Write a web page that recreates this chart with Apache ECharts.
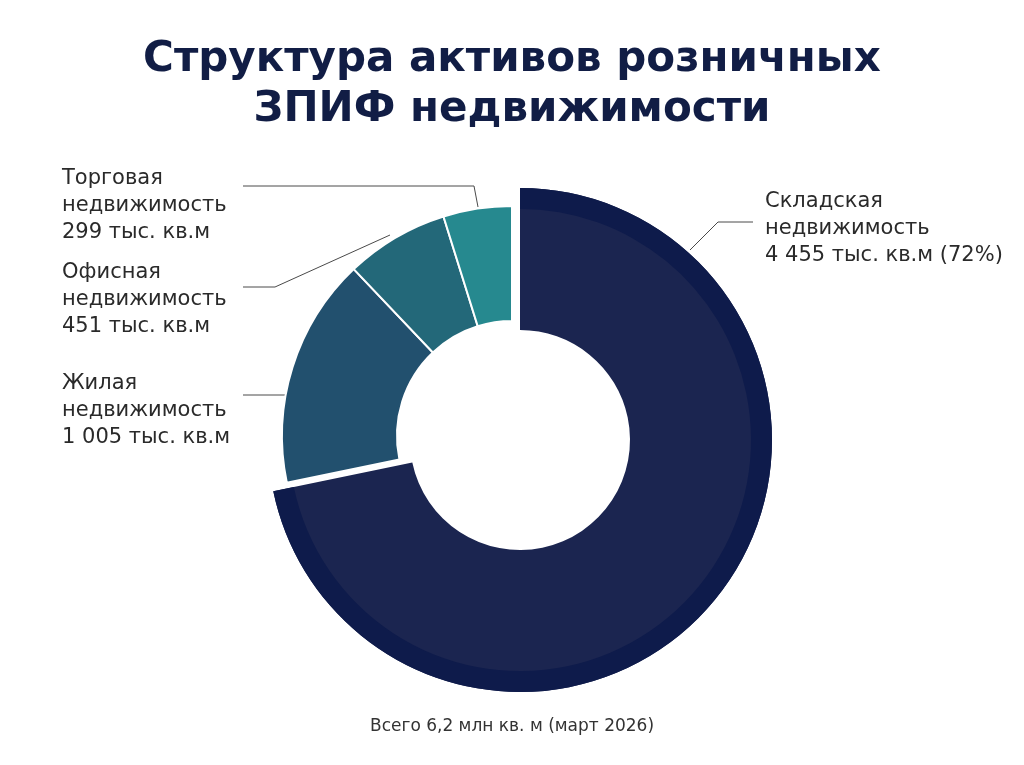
<!DOCTYPE html>
<html>
<head>
<meta charset="utf-8">
<script src="https://cdn.jsdelivr.net/npm/echarts@6/dist/echarts.min.js"></script>
<style>
html,body{margin:0;padding:0;background:#fff}
#main{width:1024px;height:765px}
</style>
</head>
<body>
<div id="main"></div>
<script>
var myChart = echarts.init(document.getElementById('main'));

// данные (тыс. кв.м)
var kinds  = ['Складская','Жилая','Офисная','Торговая'];
var values = [4455, 1005, 451, 299];
var colors = ['#1b2550','#22506e','#236879','#26898f'];
var bandColor = '#0e1b4b';
var titleText = 'Структура активов розничных\nЗПИФ недвижимости';
var noteText = 'Всего 6,2 млн кв. м (март 2026)';

// положение подписей и выносок (только раскладка)
var labelSpots = [
  {x:765, y:188, line:[[690,250],[718,222],[753,222]]},
  {x:62,  y:370, line:[[286,395],[286,395],[243,395]]},
  {x:62,  y:259, line:[[390,235],[275,287],[243,287]]},
  {x:62,  y:165, line:[[478,207],[474,186],[243,186]]}
];

function fmt(v){
  return String(v).replace(/\B(?=(\d{3})+(?!\d))/g,' ');
}

// в каждом ряду видны только нужные сектора, остальные прозрачны
function buildData(show, colorFn, withLabel){
  var temp=[];
  for(let i=0;i<kinds.length;i++){
    var on = show(i);
    temp.push({
      name:kinds[i],
      value:values[i],
      itemStyle:on ? {color:colorFn(i)} : {color:'transparent',borderWidth:0},
      label:{show:on && withLabel},
      labelLine:{show:on && withLabel}
    });
  }
  return temp;
}

var labelStyle = {
  show:true,
  color:'#2a2a2a',
  fontFamily:'DejaVu Sans',
  fontSize:21,
  lineHeight:27,
  formatter:function(p){
    var s = p.name+'\nнедвижимость\n'+fmt(p.value)+' тыс. кв.м';
    if(p.dataIndex===0){ s += ' ('+Math.round(p.percent)+'%)'; }
    return s;
  }
};

function placeLabel(p){
  var s = labelSpots[p.dataIndex];
  return {x:s.x, y:s.y, align:'left', verticalAlign:'top', labelLinePoints:s.line};
}

var option = {
  backgroundColor:'#fff',
  title:[{
    text:titleText,
    left:'center',
    top:30,
    textStyle:{
      fontFamily:'DejaVu Sans',
      fontWeight:'bold',
      fontSize:42,
      lineHeight:50,
      color:'#111d45'
    }
  },{
    text:noteText,
    left:'center',
    top:713,
    textStyle:{
      fontFamily:'DejaVu Sans',
      fontWeight:'normal',
      fontSize:17,
      color:'#333'
    }
  }],
  series:[
  {
    name:'small',
    type:'pie',
    center:[512,436],
    radius:[115,230],
    startAngle:90,
    clockwise:true,
    avoidLabelOverlap:false,
    emphasis:{disabled:true},
    itemStyle:{borderColor:'#fff',borderWidth:2},
    label:labelStyle,
    labelLine:{show:true,lineStyle:{color:'#4a4a4a',width:1}},
    labelLayout:placeLabel,
    data:buildData(function(i){return i>0;}, function(i){return colors[i];}, true)
  },
  {
    name:'big',
    type:'pie',
    center:[520,440],
    radius:[110,252],
    startAngle:90,
    clockwise:true,
    avoidLabelOverlap:false,
    emphasis:{disabled:true},
    label:labelStyle,
    labelLine:{show:true,lineStyle:{color:'#4a4a4a',width:1}},
    labelLayout:placeLabel,
    data:buildData(function(i){return i===0;}, function(i){return colors[i];}, true)
  },
  {
    name:'band',
    type:'pie',
    silent:true,
    center:[520,440],
    radius:[231,252],
    startAngle:90,
    clockwise:true,
    emphasis:{disabled:true},
    label:{show:false},
    labelLine:{show:false},
    data:buildData(function(i){return i===0;}, function(){return bandColor;}, false)
  }]
};

myChart.setOption(option);
</script>
</body>
</html>
